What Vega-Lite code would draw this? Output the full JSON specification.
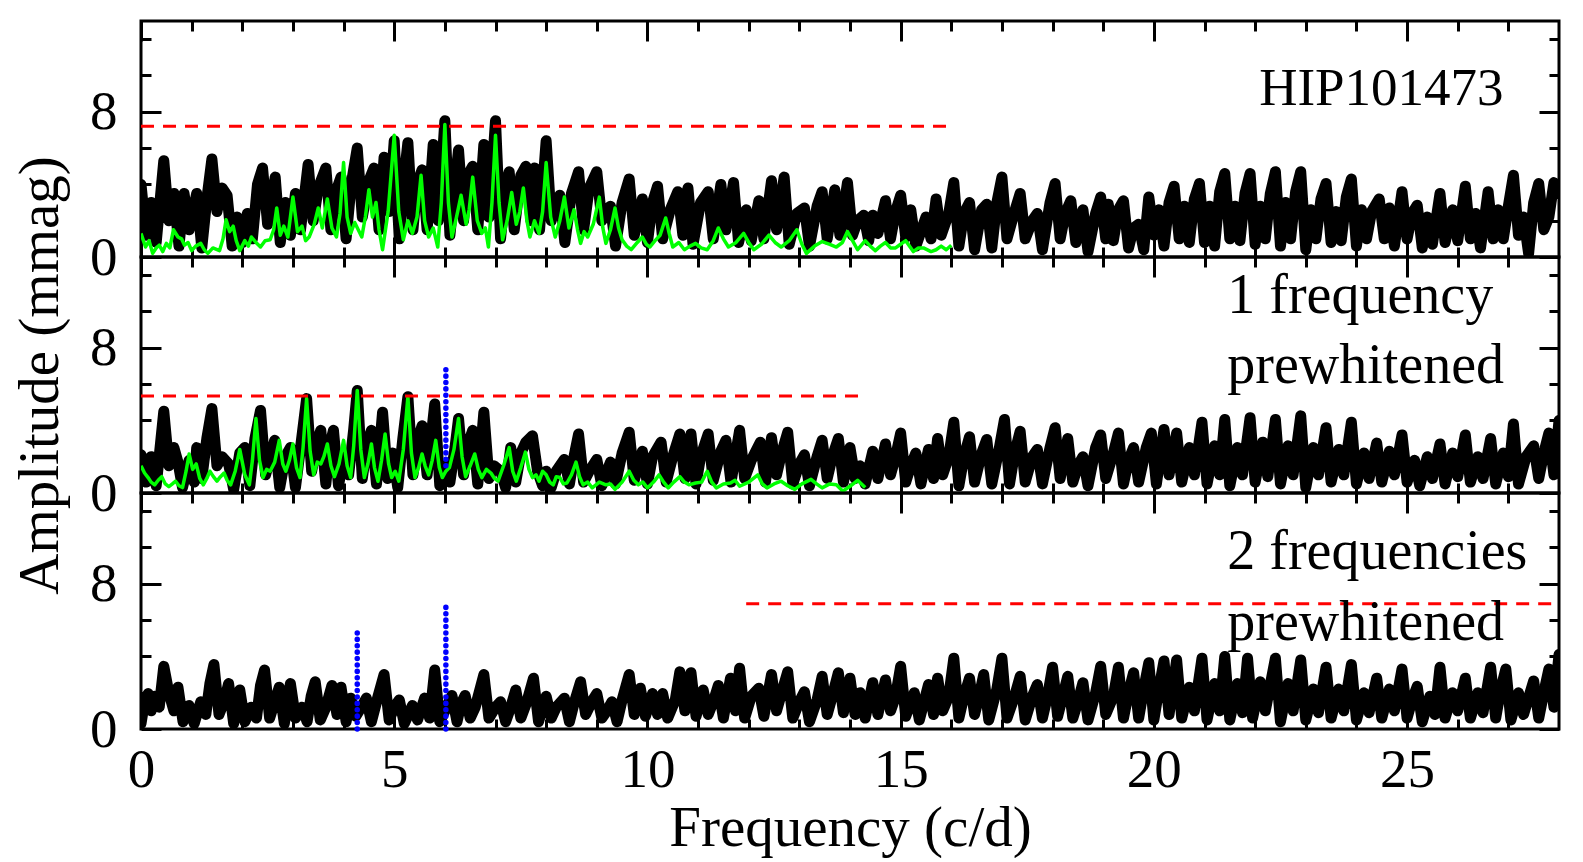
{
 "$schema": "https://vega.github.io/schema/vega-lite/v6.json",
 "padding": {"left": 10, "top": 18, "right": 0, "bottom": 0},
 "bounds": "flush",
 "spacing": 0,
 "config": {
  "view": {"stroke": "black", "strokeWidth": 3},
  "font": "Liberation Serif",
  "axis": {"domain": false, "grid": false, "tickColor": "black", "tickWidth": 3, "labelColor": "black", "titleColor": "black", "labelFont": "Liberation Serif", "titleFont": "Liberation Serif", "labelFontSize": 55, "titleFontSize": 57, "titleFontWeight": "normal", "labelFlush": false, "labelOverlap": false}
 },
 "datasets": {
  "black1": [
   {"f":0,"a":4.0},{"f":0.1,"a":1.2},{"f":0.2,"a":3.0},{"f":0.3,"a":0.8},{"f":0.45,"a":5.3},{"f":0.55,"a":2.0},{"f":0.65,"a":3.5},{"f":0.75,"a":0.6},{"f":0.85,"a":3.5},{"f":0.95,"a":1.5},{"f":1.1,"a":3.5},{"f":1.2,"a":0.5},{"f":1.3,"a":3.2},{"f":1.4,"a":5.4},{"f":1.5,"a":2.5},{"f":1.6,"a":3.8},{"f":1.7,"a":3.4},{"f":1.8,"a":0.6},{"f":1.9,"a":2.2},{"f":2.0,"a":0.8},{"f":2.1,"a":2.4},{"f":2.2,"a":1.0},{"f":2.3,"a":4.0},{"f":2.4,"a":4.9},{"f":2.5,"a":1.8},{"f":2.65,"a":4.4},{"f":2.75,"a":0.8},{"f":2.85,"a":3.0},{"f":2.95,"a":1.2},{"f":3.05,"a":3.5},{"f":3.15,"a":1.5},{"f":3.3,"a":5.1},{"f":3.4,"a":2.0},{"f":3.5,"a":3.8},{"f":3.65,"a":4.9},{"f":3.75,"a":1.5},{"f":3.85,"a":3.6},{"f":3.95,"a":4.4},{"f":4.05,"a":1.0},{"f":4.15,"a":4.0},{"f":4.27,"a":6.0},{"f":4.37,"a":2.2},{"f":4.5,"a":4.2},{"f":4.6,"a":4.9},{"f":4.7,"a":1.5},{"f":4.8,"a":5.5},{"f":4.9,"a":2.5},{"f":5.0,"a":6.4},{"f":5.1,"a":1.0},{"f":5.2,"a":4.5},{"f":5.27,"a":6.3},{"f":5.37,"a":1.5},{"f":5.45,"a":4.0},{"f":5.55,"a":4.8},{"f":5.65,"a":1.5},{"f":5.77,"a":6.2},{"f":5.87,"a":2.0},{"f":6.0,"a":7.5},{"f":6.1,"a":1.2},{"f":6.2,"a":4.0},{"f":6.27,"a":5.9},{"f":6.37,"a":2.0},{"f":6.45,"a":4.5},{"f":6.55,"a":5.0},{"f":6.65,"a":1.5},{"f":6.77,"a":6.2},{"f":6.87,"a":2.2},{"f":7.0,"a":7.5},{"f":7.1,"a":1.0},{"f":7.2,"a":4.0},{"f":7.27,"a":4.7},{"f":7.37,"a":1.5},{"f":7.5,"a":4.5},{"f":7.6,"a":5.0},{"f":7.7,"a":2.0},{"f":7.77,"a":4.9},{"f":7.87,"a":1.5},{"f":8.0,"a":6.4},{"f":8.1,"a":2.0},{"f":8.2,"a":3.0},{"f":8.27,"a":3.4},{"f":8.37,"a":0.8},{"f":8.5,"a":3.5},{"f":8.64,"a":4.7},{"f":8.74,"a":1.5},{"f":8.85,"a":3.8},{"f":9.0,"a":4.7},{"f":9.1,"a":2.0},{"f":9.2,"a":2.6},{"f":9.27,"a":2.8},{"f":9.37,"a":0.6},{"f":9.5,"a":3.0},{"f":9.64,"a":4.3},{"f":9.74,"a":1.2},{"f":9.9,"a":3.2},{"f":10.0,"a":0.8},{"f":10.1,"a":3.0},{"f":10.2,"a":3.9},{"f":10.3,"a":1.0},{"f":10.45,"a":2.6},{"f":10.6,"a":3.6},{"f":10.7,"a":1.2},{"f":10.8,"a":3.8},{"f":10.9,"a":0.7},{"f":11.05,"a":3.0},{"f":11.2,"a":3.6},{"f":11.3,"a":1.0},{"f":11.45,"a":4.0},{"f":11.55,"a":1.5},{"f":11.7,"a":4.1},{"f":11.8,"a":0.8},{"f":11.95,"a":2.6},{"f":12.05,"a":0.9},{"f":12.2,"a":3.1},{"f":12.3,"a":1.0},{"f":12.45,"a":4.2},{"f":12.55,"a":1.5},{"f":12.7,"a":4.4},{"f":12.8,"a":0.7},{"f":12.95,"a":2.4},{"f":13.1,"a":2.7},{"f":13.2,"a":0.6},{"f":13.35,"a":2.8},{"f":13.45,"a":3.6},{"f":13.55,"a":1.0},{"f":13.7,"a":3.7},{"f":13.8,"a":1.2},{"f":13.95,"a":4.1},{"f":14.05,"a":1.2},{"f":14.15,"a":2.0},{"f":14.27,"a":2.3},{"f":14.37,"a":0.9},{"f":14.45,"a":2.3},{"f":14.55,"a":1.3},{"f":14.7,"a":3.1},{"f":14.8,"a":1.0},{"f":14.9,"a":2.5},{"f":15.0,"a":3.4},{"f":15.1,"a":1.1},{"f":15.2,"a":2.6},{"f":15.3,"a":0.6},{"f":15.5,"a":2.2},{"f":15.6,"a":1.0},{"f":15.7,"a":3.2},{"f":15.8,"a":1.2},{"f":15.95,"a":2.4},{"f":16.05,"a":4.1},{"f":16.15,"a":0.6},{"f":16.25,"a":2.4},{"f":16.36,"a":3.0},{"f":16.46,"a":0.4},{"f":16.6,"a":2.6},{"f":16.7,"a":2.9},{"f":16.8,"a":0.5},{"f":16.9,"a":3.0},{"f":17.0,"a":4.4},{"f":17.1,"a":1.0},{"f":17.25,"a":2.5},{"f":17.36,"a":3.5},{"f":17.46,"a":1.0},{"f":17.6,"a":2.0},{"f":17.7,"a":2.4},{"f":17.8,"a":0.4},{"f":17.95,"a":3.0},{"f":18.05,"a":4.05},{"f":18.15,"a":1.0},{"f":18.25,"a":2.4},{"f":18.36,"a":3.1},{"f":18.46,"a":0.8},{"f":18.6,"a":2.6},{"f":18.7,"a":0.3},{"f":18.85,"a":2.4},{"f":18.95,"a":3.3},{"f":19.05,"a":1.0},{"f":19.1,"a":2.9},{"f":19.2,"a":0.9},{"f":19.3,"a":2.6},{"f":19.4,"a":3.1},{"f":19.5,"a":0.5},{"f":19.6,"a":1.6},{"f":19.7,"a":1.8},{"f":19.8,"a":0.4},{"f":19.9,"a":3.3},{"f":20.0,"a":1.2},{"f":20.1,"a":2.6},{"f":20.2,"a":0.6},{"f":20.3,"a":3.0},{"f":20.4,"a":3.9},{"f":20.5,"a":1.0},{"f":20.6,"a":2.8},{"f":20.7,"a":0.8},{"f":20.8,"a":3.2},{"f":20.9,"a":4.05},{"f":21.0,"a":0.8},{"f":21.1,"a":2.8},{"f":21.2,"a":0.6},{"f":21.3,"a":3.6},{"f":21.4,"a":4.6},{"f":21.5,"a":1.0},{"f":21.6,"a":2.8},{"f":21.7,"a":0.9},{"f":21.8,"a":3.5},{"f":21.9,"a":4.6},{"f":22.0,"a":0.7},{"f":22.1,"a":2.8},{"f":22.2,"a":1.0},{"f":22.3,"a":3.5},{"f":22.4,"a":4.7},{"f":22.5,"a":0.6},{"f":22.6,"a":3.0},{"f":22.7,"a":1.0},{"f":22.8,"a":3.6},{"f":22.9,"a":4.7},{"f":23.0,"a":0.4},{"f":23.1,"a":2.6},{"f":23.2,"a":1.0},{"f":23.3,"a":3.2},{"f":23.4,"a":4.05},{"f":23.5,"a":0.8},{"f":23.6,"a":2.5},{"f":23.7,"a":0.9},{"f":23.8,"a":3.3},{"f":23.9,"a":4.3},{"f":24.0,"a":0.6},{"f":24.1,"a":2.6},{"f":24.2,"a":1.0},{"f":24.3,"a":2.5},{"f":24.45,"a":3.2},{"f":24.55,"a":1.0},{"f":24.65,"a":2.7},{"f":24.75,"a":0.6},{"f":24.9,"a":3.6},{"f":25.0,"a":1.0},{"f":25.1,"a":2.4},{"f":25.2,"a":2.85},{"f":25.3,"a":0.5},{"f":25.4,"a":2.2},{"f":25.5,"a":0.7},{"f":25.65,"a":3.5},{"f":25.75,"a":0.8},{"f":25.9,"a":2.6},{"f":26.0,"a":0.9},{"f":26.15,"a":3.9},{"f":26.25,"a":1.0},{"f":26.35,"a":2.4},{"f":26.45,"a":0.5},{"f":26.6,"a":3.6},{"f":26.7,"a":1.0},{"f":26.8,"a":2.6},{"f":26.9,"a":1.0},{"f":27.0,"a":2.8},{"f":27.1,"a":4.5},{"f":27.2,"a":1.2},{"f":27.3,"a":2.2},{"f":27.4,"a":0.2},{"f":27.5,"a":3.0},{"f":27.6,"a":4.05},{"f":27.7,"a":1.5},{"f":27.8,"a":2.2},{"f":27.9,"a":4.1},{"f":28.0,"a":3.5}
  ],
  "green1": [
   {"f":0,"a":1.3},{"f":0.09,"a":0.55},{"f":0.16,"a":0.9},{"f":0.23,"a":0.2},{"f":0.3,"a":0.5},{"f":0.36,"a":0.65},{"f":0.43,"a":0.3},{"f":0.5,"a":0.75},{"f":0.57,"a":0.5},{"f":0.64,"a":1.5},{"f":0.73,"a":1.1},{"f":0.8,"a":1.0},{"f":0.86,"a":0.65},{"f":0.93,"a":0.8},{"f":1.0,"a":0.35},{"f":1.08,"a":0.6},{"f":1.18,"a":0.75},{"f":1.25,"a":0.4},{"f":1.32,"a":0.2},{"f":1.42,"a":0.5},{"f":1.55,"a":0.35},{"f":1.62,"a":1.0},{"f":1.68,"a":2.05},{"f":1.75,"a":1.4},{"f":1.82,"a":1.7},{"f":1.88,"a":0.9},{"f":1.95,"a":0.35},{"f":2.05,"a":0.9},{"f":2.12,"a":0.6},{"f":2.18,"a":1.1},{"f":2.27,"a":0.8},{"f":2.36,"a":0.55},{"f":2.45,"a":0.9},{"f":2.55,"a":0.95},{"f":2.62,"a":1.5},{"f":2.68,"a":2.7},{"f":2.75,"a":1.2},{"f":2.82,"a":1.7},{"f":2.9,"a":1.1},{"f":3.0,"a":3.3},{"f":3.09,"a":1.4},{"f":3.18,"a":1.7},{"f":3.25,"a":0.9},{"f":3.32,"a":1.1},{"f":3.42,"a":1.8},{"f":3.5,"a":2.7},{"f":3.58,"a":1.6},{"f":3.68,"a":3.2},{"f":3.77,"a":1.6},{"f":3.86,"a":1.1},{"f":3.93,"a":2.4},{"f":4.0,"a":5.2},{"f":4.07,"a":2.2},{"f":4.14,"a":1.3},{"f":4.22,"a":1.9},{"f":4.29,"a":1.5},{"f":4.36,"a":1.1},{"f":4.43,"a":2.2},{"f":4.5,"a":3.7},{"f":4.57,"a":2.2},{"f":4.64,"a":3.0},{"f":4.7,"a":1.5},{"f":4.77,"a":0.4},{"f":4.88,"a":2.5},{"f":5.0,"a":6.7},{"f":5.09,"a":2.5},{"f":5.18,"a":0.95},{"f":5.27,"a":2.0},{"f":5.36,"a":1.3},{"f":5.45,"a":2.2},{"f":5.53,"a":4.5},{"f":5.6,"a":2.0},{"f":5.68,"a":1.1},{"f":5.77,"a":1.6},{"f":5.86,"a":0.55},{"f":5.93,"a":3.0},{"f":6.0,"a":7.3},{"f":6.07,"a":3.0},{"f":6.14,"a":1.1},{"f":6.23,"a":2.2},{"f":6.32,"a":3.4},{"f":6.42,"a":1.8},{"f":6.48,"a":2.6},{"f":6.55,"a":4.4},{"f":6.64,"a":2.0},{"f":6.73,"a":1.3},{"f":6.8,"a":1.6},{"f":6.86,"a":0.55},{"f":6.93,"a":3.0},{"f":7.0,"a":6.7},{"f":7.07,"a":3.0},{"f":7.14,"a":0.95},{"f":7.23,"a":2.0},{"f":7.32,"a":3.55},{"f":7.41,"a":1.8},{"f":7.48,"a":2.5},{"f":7.55,"a":3.8},{"f":7.62,"a":2.0},{"f":7.68,"a":1.1},{"f":7.77,"a":2.0},{"f":7.86,"a":1.3},{"f":7.93,"a":2.5},{"f":8.0,"a":5.2},{"f":8.09,"a":2.2},{"f":8.18,"a":1.1},{"f":8.27,"a":2.0},{"f":8.36,"a":3.3},{"f":8.45,"a":1.6},{"f":8.55,"a":2.6},{"f":8.62,"a":1.5},{"f":8.68,"a":0.75},{"f":8.75,"a":1.4},{"f":8.82,"a":1.1},{"f":8.93,"a":1.8},{"f":9.05,"a":3.3},{"f":9.12,"a":1.6},{"f":9.18,"a":0.75},{"f":9.27,"a":1.5},{"f":9.36,"a":2.7},{"f":9.43,"a":1.6},{"f":9.5,"a":0.95},{"f":9.59,"a":0.6},{"f":9.68,"a":0.4},{"f":9.8,"a":0.8},{"f":9.9,"a":1.1},{"f":9.98,"a":0.7},{"f":10.05,"a":0.55},{"f":10.15,"a":0.9},{"f":10.25,"a":1.2},{"f":10.36,"a":2.15},{"f":10.43,"a":1.3},{"f":10.5,"a":0.55},{"f":10.62,"a":0.8},{"f":10.73,"a":0.4},{"f":10.84,"a":0.6},{"f":10.95,"a":0.75},{"f":11.06,"a":0.5},{"f":11.18,"a":0.4},{"f":11.3,"a":0.9},{"f":11.4,"a":1.6},{"f":11.5,"a":1.0},{"f":11.6,"a":0.55},{"f":11.75,"a":0.8},{"f":11.9,"a":1.3},{"f":12.0,"a":0.8},{"f":12.1,"a":0.4},{"f":12.25,"a":0.7},{"f":12.4,"a":1.2},{"f":12.52,"a":0.8},{"f":12.64,"a":0.55},{"f":12.8,"a":0.9},{"f":12.95,"a":1.5},{"f":13.05,"a":0.7},{"f":13.14,"a":0.2},{"f":13.3,"a":0.6},{"f":13.45,"a":0.85},{"f":13.6,"a":0.7},{"f":13.73,"a":0.55},{"f":13.85,"a":0.8},{"f":13.95,"a":1.4},{"f":14.05,"a":0.9},{"f":14.15,"a":0.4},{"f":14.3,"a":0.9},{"f":14.4,"a":0.6},{"f":14.5,"a":0.35},{"f":14.6,"a":0.6},{"f":14.7,"a":0.8},{"f":14.8,"a":0.5},{"f":14.9,"a":0.5},{"f":15.0,"a":0.7},{"f":15.1,"a":0.9},{"f":15.25,"a":0.3},{"f":15.35,"a":0.5},{"f":15.45,"a":0.5},{"f":15.6,"a":0.3},{"f":15.7,"a":0.4},{"f":15.8,"a":0.6},{"f":15.9,"a":0.4},{"f":16.0,"a":0.65}
  ],
  "black2": [
   {"f":0,"a":2.1},{"f":0.1,"a":0.6},{"f":0.2,"a":2.0},{"f":0.3,"a":0.4},{"f":0.45,"a":4.5},{"f":0.55,"a":1.5},{"f":0.65,"a":2.5},{"f":0.73,"a":1.7},{"f":0.82,"a":0.3},{"f":0.95,"a":1.8},{"f":1.05,"a":0.6},{"f":1.1,"a":2.5},{"f":1.2,"a":0.8},{"f":1.3,"a":3.0},{"f":1.4,"a":4.65},{"f":1.5,"a":1.5},{"f":1.6,"a":2.0},{"f":1.73,"a":1.6},{"f":1.83,"a":0.2},{"f":1.95,"a":2.2},{"f":2.05,"a":2.5},{"f":2.15,"a":0.4},{"f":2.25,"a":3.0},{"f":2.36,"a":4.55},{"f":2.46,"a":1.0},{"f":2.56,"a":2.0},{"f":2.64,"a":2.9},{"f":2.74,"a":0.3},{"f":2.85,"a":2.0},{"f":2.95,"a":2.5},{"f":3.05,"a":0.3},{"f":3.15,"a":2.5},{"f":3.27,"a":5.2},{"f":3.37,"a":1.2},{"f":3.47,"a":2.8},{"f":3.55,"a":3.45},{"f":3.65,"a":0.5},{"f":3.72,"a":2.5},{"f":3.8,"a":3.45},{"f":3.9,"a":0.4},{"f":4.0,"a":2.0},{"f":4.1,"a":1.0},{"f":4.2,"a":3.5},{"f":4.27,"a":5.65},{"f":4.37,"a":0.8},{"f":4.47,"a":2.8},{"f":4.55,"a":3.45},{"f":4.65,"a":0.5},{"f":4.77,"a":4.45},{"f":4.87,"a":0.8},{"f":4.97,"a":2.2},{"f":5.07,"a":0.3},{"f":5.17,"a":3.0},{"f":5.27,"a":5.3},{"f":5.37,"a":1.0},{"f":5.47,"a":3.0},{"f":5.55,"a":3.7},{"f":5.65,"a":1.0},{"f":5.8,"a":4.9},{"f":5.9,"a":0.4},{"f":6.0,"a":1.5},{"f":6.1,"a":0.6},{"f":6.2,"a":2.5},{"f":6.27,"a":4.1},{"f":6.37,"a":1.0},{"f":6.47,"a":2.8},{"f":6.55,"a":3.45},{"f":6.65,"a":0.5},{"f":6.77,"a":4.45},{"f":6.87,"a":0.8},{"f":6.97,"a":1.5},{"f":7.1,"a":1.2},{"f":7.2,"a":0.3},{"f":7.3,"a":2.5},{"f":7.4,"a":0.6},{"f":7.5,"a":2.2},{"f":7.6,"a":2.8},{"f":7.73,"a":3.15},{"f":7.83,"a":1.2},{"f":7.93,"a":0.4},{"f":8.0,"a":1.2},{"f":8.1,"a":0.3},{"f":8.2,"a":1.2},{"f":8.36,"a":1.85},{"f":8.46,"a":0.5},{"f":8.55,"a":2.0},{"f":8.64,"a":3.25},{"f":8.74,"a":0.6},{"f":8.85,"a":1.2},{"f":9.0,"a":1.85},{"f":9.1,"a":0.4},{"f":9.2,"a":1.2},{"f":9.27,"a":1.7},{"f":9.37,"a":0.5},{"f":9.5,"a":2.2},{"f":9.64,"a":3.35},{"f":9.74,"a":0.7},{"f":9.9,"a":2.3},{"f":10.0,"a":0.5},{"f":10.1,"a":2.0},{"f":10.27,"a":2.8},{"f":10.37,"a":0.6},{"f":10.5,"a":2.0},{"f":10.64,"a":3.25},{"f":10.74,"a":0.8},{"f":10.86,"a":3.25},{"f":10.96,"a":0.5},{"f":11.05,"a":2.0},{"f":11.2,"a":3.25},{"f":11.3,"a":0.7},{"f":11.45,"a":2.3},{"f":11.55,"a":2.9},{"f":11.65,"a":0.6},{"f":11.82,"a":3.45},{"f":11.92,"a":0.8},{"f":12.05,"a":1.8},{"f":12.23,"a":2.8},{"f":12.33,"a":0.6},{"f":12.45,"a":3.05},{"f":12.55,"a":1.0},{"f":12.65,"a":2.2},{"f":12.77,"a":3.35},{"f":12.87,"a":0.5},{"f":13.0,"a":1.6},{"f":13.1,"a":2.1},{"f":13.2,"a":0.4},{"f":13.35,"a":2.0},{"f":13.45,"a":2.9},{"f":13.55,"a":0.8},{"f":13.65,"a":2.0},{"f":13.77,"a":3.0},{"f":13.87,"a":0.6},{"f":14.0,"a":2.5},{"f":14.1,"a":0.8},{"f":14.2,"a":1.5},{"f":14.3,"a":0.5},{"f":14.45,"a":2.3},{"f":14.55,"a":0.8},{"f":14.7,"a":2.7},{"f":14.8,"a":1.0},{"f":14.9,"a":2.0},{"f":15.0,"a":3.3},{"f":15.1,"a":0.6},{"f":15.2,"a":1.5},{"f":15.3,"a":2.2},{"f":15.4,"a":0.5},{"f":15.55,"a":2.4},{"f":15.65,"a":0.8},{"f":15.73,"a":3.0},{"f":15.83,"a":1.0},{"f":15.95,"a":2.0},{"f":16.05,"a":3.9},{"f":16.15,"a":0.4},{"f":16.25,"a":2.0},{"f":16.36,"a":3.1},{"f":16.46,"a":0.6},{"f":16.6,"a":2.2},{"f":16.7,"a":2.95},{"f":16.8,"a":0.5},{"f":16.95,"a":2.5},{"f":17.05,"a":4.05},{"f":17.15,"a":0.5},{"f":17.25,"a":2.2},{"f":17.36,"a":3.4},{"f":17.46,"a":0.6},{"f":17.6,"a":2.0},{"f":17.7,"a":2.4},{"f":17.8,"a":0.5},{"f":17.95,"a":2.5},{"f":18.05,"a":3.6},{"f":18.15,"a":0.8},{"f":18.3,"a":3.0},{"f":18.4,"a":0.6},{"f":18.5,"a":1.5},{"f":18.6,"a":2.0},{"f":18.7,"a":0.4},{"f":18.85,"a":2.5},{"f":18.95,"a":3.2},{"f":19.05,"a":0.8},{"f":19.2,"a":2.2},{"f":19.3,"a":3.3},{"f":19.4,"a":0.5},{"f":19.5,"a":1.8},{"f":19.6,"a":2.5},{"f":19.7,"a":0.6},{"f":19.85,"a":2.5},{"f":19.95,"a":3.3},{"f":20.05,"a":0.5},{"f":20.2,"a":3.5},{"f":20.3,"a":1.0},{"f":20.45,"a":3.3},{"f":20.55,"a":0.6},{"f":20.7,"a":2.5},{"f":20.8,"a":1.0},{"f":20.95,"a":3.9},{"f":21.05,"a":0.5},{"f":21.2,"a":2.6},{"f":21.3,"a":1.0},{"f":21.4,"a":4.05},{"f":21.5,"a":0.4},{"f":21.65,"a":2.5},{"f":21.75,"a":1.0},{"f":21.9,"a":4.15},{"f":22.0,"a":0.6},{"f":22.15,"a":2.8},{"f":22.25,"a":0.9},{"f":22.4,"a":4.05},{"f":22.5,"a":0.5},{"f":22.65,"a":2.6},{"f":22.75,"a":1.0},{"f":22.9,"a":4.25},{"f":23.0,"a":0.3},{"f":23.15,"a":2.5},{"f":23.25,"a":1.0},{"f":23.4,"a":3.6},{"f":23.5,"a":0.6},{"f":23.65,"a":2.4},{"f":23.75,"a":1.0},{"f":23.9,"a":3.9},{"f":24.0,"a":0.5},{"f":24.15,"a":2.2},{"f":24.25,"a":0.8},{"f":24.4,"a":2.75},{"f":24.5,"a":0.6},{"f":24.65,"a":2.3},{"f":24.75,"a":1.0},{"f":24.9,"a":3.2},{"f":25.0,"a":0.6},{"f":25.15,"a":1.8},{"f":25.25,"a":0.4},{"f":25.4,"a":2.0},{"f":25.5,"a":0.8},{"f":25.65,"a":2.7},{"f":25.75,"a":0.5},{"f":25.9,"a":2.2},{"f":26.0,"a":0.9},{"f":26.15,"a":3.2},{"f":26.25,"a":0.6},{"f":26.4,"a":2.0},{"f":26.5,"a":0.8},{"f":26.65,"a":3.0},{"f":26.75,"a":0.5},{"f":26.9,"a":2.2},{"f":27.0,"a":0.9},{"f":27.1,"a":3.8},{"f":27.2,"a":0.5},{"f":27.35,"a":2.0},{"f":27.5,"a":2.6},{"f":27.6,"a":0.8},{"f":27.7,"a":2.2},{"f":27.8,"a":3.3},{"f":27.9,"a":1.0},{"f":28.0,"a":4.0}
  ],
  "green2": [
   {"f":0,"a":1.5},{"f":0.07,"a":1.1},{"f":0.14,"a":0.85},{"f":0.2,"a":0.6},{"f":0.27,"a":0.45},{"f":0.34,"a":0.7},{"f":0.41,"a":0.9},{"f":0.48,"a":0.5},{"f":0.55,"a":0.35},{"f":0.62,"a":0.5},{"f":0.68,"a":0.65},{"f":0.75,"a":0.4},{"f":0.82,"a":0.3},{"f":0.89,"a":1.2},{"f":0.95,"a":2.15},{"f":1.02,"a":1.3},{"f":1.09,"a":1.6},{"f":1.16,"a":0.8},{"f":1.23,"a":0.45},{"f":1.3,"a":0.8},{"f":1.36,"a":1.2},{"f":1.43,"a":0.9},{"f":1.5,"a":0.65},{"f":1.57,"a":0.9},{"f":1.64,"a":1.1},{"f":1.7,"a":0.7},{"f":1.77,"a":0.45},{"f":1.86,"a":1.2},{"f":1.95,"a":2.4},{"f":2.05,"a":1.0},{"f":2.14,"a":0.45},{"f":2.2,"a":1.8},{"f":2.27,"a":4.1},{"f":2.34,"a":1.8},{"f":2.41,"a":0.85},{"f":2.48,"a":1.3},{"f":2.55,"a":1.2},{"f":2.64,"a":1.7},{"f":2.73,"a":2.9},{"f":2.8,"a":1.6},{"f":2.86,"a":1.2},{"f":2.93,"a":1.8},{"f":3.0,"a":2.7},{"f":3.07,"a":1.4},{"f":3.14,"a":0.85},{"f":3.2,"a":2.5},{"f":3.27,"a":5.2},{"f":3.34,"a":2.3},{"f":3.41,"a":1.0},{"f":3.48,"a":1.7},{"f":3.55,"a":1.6},{"f":3.61,"a":2.0},{"f":3.68,"a":2.7},{"f":3.75,"a":1.5},{"f":3.82,"a":0.9},{"f":3.91,"a":1.6},{"f":4.0,"a":2.9},{"f":4.07,"a":1.5},{"f":4.14,"a":0.85},{"f":4.2,"a":2.6},{"f":4.27,"a":5.65},{"f":4.34,"a":2.4},{"f":4.41,"a":0.85},{"f":4.48,"a":1.6},{"f":4.55,"a":2.7},{"f":4.61,"a":1.4},{"f":4.68,"a":0.65},{"f":4.75,"a":1.8},{"f":4.82,"a":3.25},{"f":4.89,"a":1.6},{"f":4.95,"a":0.85},{"f":5.02,"a":1.2},{"f":5.09,"a":0.65},{"f":5.18,"a":2.4},{"f":5.27,"a":5.3},{"f":5.34,"a":2.2},{"f":5.41,"a":0.85},{"f":5.48,"a":1.4},{"f":5.55,"a":2.15},{"f":5.61,"a":1.5},{"f":5.68,"a":1.0},{"f":5.75,"a":1.8},{"f":5.82,"a":2.9},{"f":5.89,"a":1.4},{"f":5.95,"a":0.85},{"f":6.02,"a":1.2},{"f":6.09,"a":1.4},{"f":6.18,"a":2.4},{"f":6.27,"a":4.1},{"f":6.34,"a":2.0},{"f":6.41,"a":0.9},{"f":6.5,"a":1.5},{"f":6.59,"a":2.15},{"f":6.66,"a":1.3},{"f":6.73,"a":0.85},{"f":6.82,"a":1.3},{"f":6.91,"a":1.1},{"f":6.98,"a":0.8},{"f":7.05,"a":0.65},{"f":7.16,"a":1.5},{"f":7.27,"a":2.5},{"f":7.34,"a":1.2},{"f":7.41,"a":0.65},{"f":7.5,"a":1.4},{"f":7.59,"a":2.25},{"f":7.66,"a":1.3},{"f":7.73,"a":0.85},{"f":7.8,"a":1.0},{"f":7.86,"a":0.65},{"f":7.93,"a":1.2},{"f":8.0,"a":1.0},{"f":8.07,"a":0.6},{"f":8.14,"a":0.45},{"f":8.2,"a":0.9},{"f":8.27,"a":0.85},{"f":8.34,"a":0.5},{"f":8.41,"a":0.55},{"f":8.5,"a":1.0},{"f":8.59,"a":1.7},{"f":8.66,"a":0.9},{"f":8.73,"a":0.45},{"f":8.82,"a":0.6},{"f":8.91,"a":0.28},{"f":9.05,"a":0.6},{"f":9.18,"a":0.45},{"f":9.27,"a":0.5},{"f":9.36,"a":0.2},{"f":9.5,"a":0.6},{"f":9.64,"a":1.2},{"f":9.73,"a":0.7},{"f":9.82,"a":0.45},{"f":9.91,"a":0.6},{"f":10.0,"a":0.28},{"f":10.12,"a":0.6},{"f":10.23,"a":1.0},{"f":10.32,"a":0.6},{"f":10.41,"a":0.28},{"f":10.52,"a":0.6},{"f":10.64,"a":0.9},{"f":10.73,"a":0.6},{"f":10.82,"a":0.45},{"f":10.95,"a":0.55},{"f":11.07,"a":0.6},{"f":11.18,"a":1.2},{"f":11.27,"a":0.6},{"f":11.36,"a":0.28},{"f":11.5,"a":0.5},{"f":11.64,"a":0.55},{"f":11.73,"a":0.7},{"f":11.82,"a":0.37},{"f":12.0,"a":0.6},{"f":12.18,"a":1.0},{"f":12.27,"a":0.5},{"f":12.36,"a":0.28},{"f":12.5,"a":0.5},{"f":12.64,"a":0.65},{"f":12.77,"a":0.4},{"f":12.91,"a":0.2},{"f":13.05,"a":0.5},{"f":13.23,"a":0.75},{"f":13.34,"a":0.5},{"f":13.45,"a":0.28},{"f":13.6,"a":0.5},{"f":13.73,"a":0.45},{"f":13.86,"a":0.1},{"f":14.0,"a":0.37},{"f":14.15,"a":0.7},{"f":14.3,"a":0.3}
  ],
  "black3": [
   {"f":0,"a":0.3},{"f":0.07,"a":1.5},{"f":0.14,"a":1.95},{"f":0.2,"a":1.0},{"f":0.27,"a":1.8},{"f":0.36,"a":1.2},{"f":0.45,"a":3.45},{"f":0.55,"a":2.0},{"f":0.65,"a":1.0},{"f":0.73,"a":2.3},{"f":0.83,"a":0.4},{"f":0.95,"a":1.3},{"f":1.05,"a":0.3},{"f":1.18,"a":1.5},{"f":1.28,"a":0.8},{"f":1.36,"a":2.5},{"f":1.44,"a":3.55},{"f":1.54,"a":0.8},{"f":1.64,"a":1.5},{"f":1.73,"a":2.5},{"f":1.83,"a":0.3},{"f":1.95,"a":2.15},{"f":2.05,"a":0.4},{"f":2.18,"a":1.2},{"f":2.28,"a":0.6},{"f":2.36,"a":2.4},{"f":2.44,"a":3.25},{"f":2.54,"a":0.6},{"f":2.64,"a":1.5},{"f":2.73,"a":2.3},{"f":2.83,"a":0.3},{"f":2.95,"a":2.5},{"f":3.05,"a":0.6},{"f":3.18,"a":1.2},{"f":3.28,"a":0.4},{"f":3.36,"a":1.8},{"f":3.44,"a":2.6},{"f":3.54,"a":0.5},{"f":3.65,"a":1.2},{"f":3.77,"a":2.4},{"f":3.87,"a":0.8},{"f":3.95,"a":2.3},{"f":4.05,"a":0.4},{"f":4.14,"a":1.7},{"f":4.24,"a":0.7},{"f":4.35,"a":1.2},{"f":4.45,"a":1.7},{"f":4.55,"a":0.4},{"f":4.68,"a":1.8},{"f":4.8,"a":3.0},{"f":4.9,"a":0.5},{"f":5.0,"a":1.2},{"f":5.1,"a":1.6},{"f":5.2,"a":0.3},{"f":5.36,"a":1.3},{"f":5.46,"a":0.5},{"f":5.6,"a":1.7},{"f":5.7,"a":0.6},{"f":5.8,"a":3.25},{"f":5.9,"a":0.4},{"f":6.0,"a":1.0},{"f":6.14,"a":1.85},{"f":6.24,"a":0.4},{"f":6.32,"a":1.4},{"f":6.4,"a":1.85},{"f":6.5,"a":0.6},{"f":6.6,"a":1.2},{"f":6.77,"a":3.0},{"f":6.87,"a":0.6},{"f":7.0,"a":1.2},{"f":7.1,"a":1.5},{"f":7.2,"a":0.4},{"f":7.3,"a":1.2},{"f":7.4,"a":2.15},{"f":7.5,"a":0.6},{"f":7.62,"a":1.5},{"f":7.75,"a":2.8},{"f":7.85,"a":0.4},{"f":8.0,"a":1.8},{"f":8.1,"a":0.6},{"f":8.2,"a":1.2},{"f":8.36,"a":1.7},{"f":8.46,"a":0.4},{"f":8.56,"a":1.5},{"f":8.68,"a":2.6},{"f":8.78,"a":0.8},{"f":8.9,"a":1.5},{"f":9.0,"a":1.95},{"f":9.1,"a":0.6},{"f":9.2,"a":1.0},{"f":9.3,"a":1.5},{"f":9.4,"a":0.4},{"f":9.5,"a":1.6},{"f":9.64,"a":3.0},{"f":9.74,"a":0.8},{"f":9.86,"a":2.25},{"f":9.96,"a":0.7},{"f":10.1,"a":1.95},{"f":10.2,"a":0.8},{"f":10.3,"a":1.95},{"f":10.4,"a":0.6},{"f":10.55,"a":1.6},{"f":10.64,"a":3.15},{"f":10.74,"a":1.0},{"f":10.86,"a":3.1},{"f":10.96,"a":0.7},{"f":11.1,"a":2.15},{"f":11.2,"a":0.8},{"f":11.3,"a":1.5},{"f":11.4,"a":2.4},{"f":11.5,"a":0.6},{"f":11.64,"a":2.8},{"f":11.74,"a":1.0},{"f":11.82,"a":3.35},{"f":11.92,"a":0.6},{"f":12.05,"a":1.8},{"f":12.2,"a":2.25},{"f":12.3,"a":0.7},{"f":12.45,"a":3.0},{"f":12.55,"a":1.0},{"f":12.65,"a":2.0},{"f":12.77,"a":3.15},{"f":12.87,"a":0.6},{"f":13.0,"a":1.5},{"f":13.1,"a":2.05},{"f":13.2,"a":0.4},{"f":13.35,"a":1.6},{"f":13.45,"a":2.9},{"f":13.55,"a":0.8},{"f":13.65,"a":1.8},{"f":13.77,"a":3.1},{"f":13.87,"a":0.9},{"f":14.0,"a":2.8},{"f":14.1,"a":0.8},{"f":14.2,"a":2.0},{"f":14.3,"a":0.6},{"f":14.45,"a":2.55},{"f":14.55,"a":0.8},{"f":14.7,"a":2.7},{"f":14.8,"a":1.0},{"f":14.9,"a":1.8},{"f":15.0,"a":3.45},{"f":15.1,"a":0.7},{"f":15.27,"a":2.0},{"f":15.37,"a":0.5},{"f":15.55,"a":2.45},{"f":15.65,"a":0.8},{"f":15.73,"a":2.8},{"f":15.83,"a":1.0},{"f":15.95,"a":1.8},{"f":16.05,"a":3.9},{"f":16.15,"a":0.6},{"f":16.25,"a":1.8},{"f":16.36,"a":2.8},{"f":16.46,"a":0.8},{"f":16.55,"a":1.8},{"f":16.64,"a":3.0},{"f":16.74,"a":0.5},{"f":16.9,"a":2.2},{"f":17.0,"a":3.9},{"f":17.1,"a":0.6},{"f":17.25,"a":1.8},{"f":17.36,"a":2.9},{"f":17.46,"a":0.5},{"f":17.6,"a":1.8},{"f":17.7,"a":2.45},{"f":17.8,"a":0.6},{"f":17.9,"a":1.8},{"f":18.0,"a":3.4},{"f":18.1,"a":0.7},{"f":18.2,"a":1.8},{"f":18.3,"a":2.9},{"f":18.4,"a":0.6},{"f":18.5,"a":1.5},{"f":18.6,"a":2.55},{"f":18.7,"a":0.5},{"f":18.85,"a":2.0},{"f":18.95,"a":3.45},{"f":19.05,"a":0.8},{"f":19.2,"a":1.8},{"f":19.3,"a":3.4},{"f":19.4,"a":0.6},{"f":19.5,"a":2.0},{"f":19.6,"a":3.1},{"f":19.7,"a":0.6},{"f":19.8,"a":2.2},{"f":19.9,"a":3.65},{"f":20.0,"a":0.5},{"f":20.1,"a":2.2},{"f":20.2,"a":3.75},{"f":20.3,"a":0.8},{"f":20.45,"a":3.8},{"f":20.55,"a":0.6},{"f":20.7,"a":2.3},{"f":20.8,"a":1.0},{"f":20.95,"a":3.9},{"f":21.05,"a":0.5},{"f":21.2,"a":2.5},{"f":21.3,"a":1.0},{"f":21.4,"a":4.0},{"f":21.5,"a":0.5},{"f":21.65,"a":2.5},{"f":21.75,"a":0.9},{"f":21.85,"a":3.9},{"f":21.95,"a":0.6},{"f":22.1,"a":2.6},{"f":22.2,"a":1.0},{"f":22.4,"a":3.9},{"f":22.5,"a":0.4},{"f":22.65,"a":2.5},{"f":22.75,"a":1.0},{"f":22.9,"a":3.8},{"f":23.0,"a":0.5},{"f":23.15,"a":2.2},{"f":23.25,"a":0.9},{"f":23.4,"a":3.4},{"f":23.5,"a":0.6},{"f":23.65,"a":2.2},{"f":23.75,"a":1.0},{"f":23.9,"a":3.55},{"f":24.0,"a":0.5},{"f":24.15,"a":2.0},{"f":24.25,"a":0.9},{"f":24.4,"a":2.8},{"f":24.5,"a":0.6},{"f":24.65,"a":2.2},{"f":24.75,"a":1.0},{"f":24.9,"a":3.3},{"f":25.0,"a":0.6},{"f":25.1,"a":1.6},{"f":25.2,"a":2.35},{"f":25.3,"a":0.4},{"f":25.45,"a":1.8},{"f":25.55,"a":0.8},{"f":25.65,"a":3.4},{"f":25.75,"a":0.6},{"f":25.9,"a":2.0},{"f":26.0,"a":1.0},{"f":26.15,"a":2.8},{"f":26.25,"a":0.6},{"f":26.4,"a":2.0},{"f":26.5,"a":0.9},{"f":26.65,"a":3.4},{"f":26.75,"a":0.6},{"f":26.85,"a":2.2},{"f":26.95,"a":3.3},{"f":27.05,"a":0.5},{"f":27.2,"a":2.0},{"f":27.3,"a":0.8},{"f":27.5,"a":2.65},{"f":27.6,"a":0.6},{"f":27.7,"a":2.0},{"f":27.8,"a":3.3},{"f":27.9,"a":1.2},{"f":28.0,"a":4.1}
  ]
 },
 "vconcat": [
  {
   "width": 1418, "height": 236,
   "layer": [
    {"data": {"name": "black1"}, "mark": {"type": "line", "color": "black", "strokeWidth": 11, "strokeJoin": "round", "strokeCap": "round", "clip": true},
     "encoding": {
      "x": {"field": "f", "type": "quantitative", "scale": {"domain": [0, 28], "nice": false, "zero": false}, "axis": {"orient": "bottom", "values": [0,5,10,15,20,25], "tickSize": -20, "labels": false, "title": null}},
      "y": {"field": "a", "type": "quantitative", "scale": {"domain": [0, 13], "nice": false}, "axis": {"orient": "left", "values": [0, 8], "tickSize": -20, "labelPadding": 44, "title": null}}
     }},
    {"data": {"name": "green1"}, "mark": {"type": "line", "color": "#00ff00", "strokeWidth": 3.5, "strokeJoin": "round", "clip": true},
     "encoding": {
      "x": {"field": "f", "type": "quantitative", "scale": {"domain": [0, 28], "nice": false, "zero": false}, "axis": {"orient": "bottom", "values": [1,2,3,4,6,7,8,9,11,12,13,14,16,17,18,19,21,22,23,24,26,27], "tickSize": -10, "labels": false, "title": null}},
      "y": {"field": "a", "type": "quantitative", "scale": {"domain": [0, 13], "nice": false}, "axis": {"orient": "left", "values": [2,4,6,10,12], "tickSize": -10, "labels": false, "title": null}}
     }},
    {"data": {"values": [{"from": 0, "to": 16, "level": 7.2}]}, "mark": {"type": "rule", "color": "#ff0000", "strokeWidth": 3, "strokeDash": [13, 9]},
     "encoding": {
      "x": {"field": "from", "type": "quantitative", "scale": {"domain": [0, 28], "nice": false, "zero": false}, "axis": {"orient": "top", "values": [0,5,10,15,20,25], "tickSize": -20, "labels": false, "title": null}},
      "x2": {"field": "to"},
      "y": {"field": "level", "type": "quantitative", "scale": {"domain": [0, 13], "nice": false}, "axis": {"orient": "right", "values": [0, 8], "tickSize": -20, "labels": false, "title": null}}
     }},
    {"data": {"values": [{"label": "HIP101473"}]}, "mark": {"type": "text", "font": "Liberation Serif", "fontSize": 53, "align": "left", "baseline": "alphabetic", "color": "black"},
     "encoding": {
      "x": {"datum": 22.08, "type": "quantitative", "scale": {"domain": [0, 28], "nice": false, "zero": false}, "axis": {"orient": "top", "values": [1,2,3,4,6,7,8,9,11,12,13,14,16,17,18,19,21,22,23,24,26,27], "tickSize": -10, "labels": false, "title": null}},
      "y": {"datum": 8.36, "type": "quantitative", "scale": {"domain": [0, 13], "nice": false}, "axis": {"orient": "right", "values": [2,4,6,10,12], "tickSize": -10, "labels": false, "title": null}},
      "text": {"field": "label"}
     }}
   ],
   "resolve": {"axis": {"x": "independent", "y": "independent"}}
  },
  {
   "width": 1418, "height": 236,
   "layer": [
    {"data": {"name": "black2"}, "mark": {"type": "line", "color": "black", "strokeWidth": 11, "strokeJoin": "round", "strokeCap": "round", "clip": true},
     "encoding": {
      "x": {"field": "f", "type": "quantitative", "scale": {"domain": [0, 28], "nice": false, "zero": false}, "axis": {"orient": "bottom", "values": [0,5,10,15,20,25], "tickSize": -20, "labels": false, "title": null}},
      "y": {"field": "a", "type": "quantitative", "scale": {"domain": [0, 13], "nice": false}, "axis": {"orient": "left", "values": [0, 8], "tickSize": -20, "labelPadding": 44, "title": "Amplitude (mmag)", "titlePadding": 20}}
     }},
    {"data": {"name": "green2"}, "mark": {"type": "line", "color": "#00ff00", "strokeWidth": 3.5, "strokeJoin": "round", "clip": true},
     "encoding": {
      "x": {"field": "f", "type": "quantitative", "scale": {"domain": [0, 28], "nice": false, "zero": false}, "axis": {"orient": "bottom", "values": [1,2,3,4,6,7,8,9,11,12,13,14,16,17,18,19,21,22,23,24,26,27], "tickSize": -10, "labels": false, "title": null}},
      "y": {"field": "a", "type": "quantitative", "scale": {"domain": [0, 13], "nice": false}, "axis": {"orient": "left", "values": [2,4,6,10,12], "tickSize": -10, "labels": false, "title": null}}
     }},
    {"data": {"values": [{"from": 0, "to": 14.3, "level": 5.35}]}, "mark": {"type": "rule", "color": "#ff0000", "strokeWidth": 3, "strokeDash": [13, 9]},
     "encoding": {
      "x": {"field": "from", "type": "quantitative", "scale": {"domain": [0, 28], "nice": false, "zero": false}, "axis": {"orient": "top", "values": [0,5,10,15,20,25], "tickSize": -20, "labels": false, "title": null}},
      "x2": {"field": "to"},
      "y": {"field": "level", "type": "quantitative", "scale": {"domain": [0, 13], "nice": false}, "axis": {"orient": "right", "values": [0, 8], "tickSize": -20, "labels": false, "title": null}}
     }},
    {"data": {"values": [{"f": 6.02, "lo": 1.5, "hi": 6.9}]}, "mark": {"type": "rule", "color": "#0000ff", "strokeWidth": 5.5, "strokeCap": "round", "strokeDash": [0.1, 6.3]},
     "encoding": {
      "x": {"field": "f", "type": "quantitative", "scale": {"domain": [0, 28], "nice": false, "zero": false}, "axis": null},
      "y": {"field": "lo", "type": "quantitative", "scale": {"domain": [0, 13], "nice": false}, "axis": null},
      "y2": {"field": "hi"}
     }},
    {"data": {"values": [{"label": "1 frequency\nprewhitened"}]}, "mark": {"type": "text", "font": "Liberation Serif", "fontSize": 56, "align": "left", "baseline": "alphabetic", "color": "black", "lineBreak": "\n", "lineHeight": 70},
     "encoding": {
      "x": {"datum": 21.45, "type": "quantitative", "scale": {"domain": [0, 28], "nice": false, "zero": false}, "axis": {"orient": "top", "values": [1,2,3,4,6,7,8,9,11,12,13,14,16,17,18,19,21,22,23,24,26,27], "tickSize": -10, "labels": false, "title": null}},
      "y": {"datum": 9.91, "type": "quantitative", "scale": {"domain": [0, 13], "nice": false}, "axis": {"orient": "right", "values": [2,4,6,10,12], "tickSize": -10, "labels": false, "title": null}},
      "text": {"field": "label"}
     }}
   ],
   "resolve": {"axis": {"x": "independent", "y": "independent"}}
  },
  {
   "width": 1418, "height": 236,
   "layer": [
    {"data": {"name": "black3"}, "mark": {"type": "line", "color": "black", "strokeWidth": 11, "strokeJoin": "round", "strokeCap": "round", "clip": true},
     "encoding": {
      "x": {"field": "f", "type": "quantitative", "scale": {"domain": [0, 28], "nice": false, "zero": false}, "axis": {"orient": "bottom", "values": [0,5,10,15,20,25], "tickSize": -20, "labelPadding": 34, "title": "Frequency (c/d)", "titlePadding": 3}},
      "y": {"field": "a", "type": "quantitative", "scale": {"domain": [0, 13], "nice": false}, "axis": {"orient": "left", "values": [0, 8], "tickSize": -20, "labelPadding": 44, "title": null}}
     }},
    {"data": {"values": [{"f": 4.27, "lo": 0, "hi": 5.3}, {"f": 6.02, "lo": 0, "hi": 6.9}]}, "mark": {"type": "rule", "color": "#0000ff", "strokeWidth": 5.5, "strokeCap": "round", "strokeDash": [0.1, 6.3]},
     "encoding": {
      "x": {"field": "f", "type": "quantitative", "scale": {"domain": [0, 28], "nice": false, "zero": false}, "axis": {"orient": "bottom", "values": [1,2,3,4,6,7,8,9,11,12,13,14,16,17,18,19,21,22,23,24,26,27], "tickSize": -10, "labels": false, "title": null}},
      "y": {"field": "lo", "type": "quantitative", "scale": {"domain": [0, 13], "nice": false}, "axis": {"orient": "left", "values": [2,4,6,10,12], "tickSize": -10, "labels": false, "title": null}},
      "y2": {"field": "hi"}
     }},
    {"data": {"values": [{"from": 11.95, "to": 28, "level": 6.9}]}, "mark": {"type": "rule", "color": "#ff0000", "strokeWidth": 3, "strokeDash": [13, 9]},
     "encoding": {
      "x": {"field": "from", "type": "quantitative", "scale": {"domain": [0, 28], "nice": false, "zero": false}, "axis": {"orient": "top", "values": [0,5,10,15,20,25], "tickSize": -20, "labels": false, "title": null}},
      "x2": {"field": "to"},
      "y": {"field": "level", "type": "quantitative", "scale": {"domain": [0, 13], "nice": false}, "axis": {"orient": "right", "values": [0, 8], "tickSize": -20, "labels": false, "title": null}}
     }},
    {"data": {"values": [{"label": "2 frequencies\nprewhitened"}]}, "mark": {"type": "text", "font": "Liberation Serif", "fontSize": 56, "align": "left", "baseline": "alphabetic", "color": "black", "lineBreak": "\n", "lineHeight": 71},
     "encoding": {
      "x": {"datum": 21.45, "type": "quantitative", "scale": {"domain": [0, 28], "nice": false, "zero": false}, "axis": {"orient": "top", "values": [1,2,3,4,6,7,8,9,11,12,13,14,16,17,18,19,21,22,23,24,26,27], "tickSize": -10, "labels": false, "title": null}},
      "y": {"datum": 8.81, "type": "quantitative", "scale": {"domain": [0, 13], "nice": false}, "axis": {"orient": "right", "values": [2,4,6,10,12], "tickSize": -10, "labels": false, "title": null}},
      "text": {"field": "label"}
     }}
   ],
   "resolve": {"axis": {"x": "independent", "y": "independent"}}
  }
 ]
}
